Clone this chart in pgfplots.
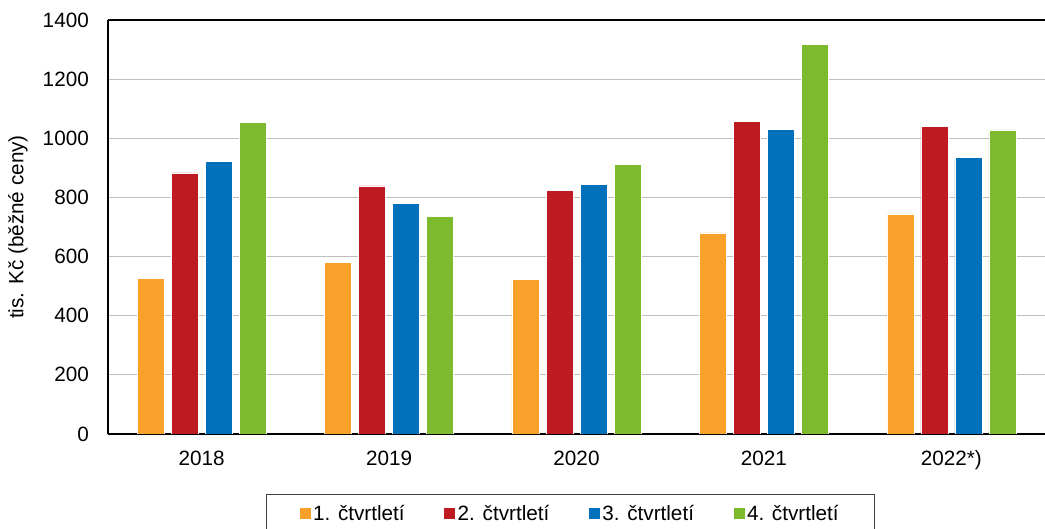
\documentclass[border=0pt]{standalone}
\usepackage{pgfplots}
\pgfplotsset{compat=1.18}
\usepackage{fontspec}
\setmainfont{Liberation Sans}
\definecolor{cq1}{HTML}{F9A12A}
\definecolor{cq2}{HTML}{BE1A22}
\definecolor{cq3}{HTML}{0070BA}
\definecolor{cq4}{HTML}{7DBA2E}
\pgfplotsset{sqlegend/.style={legend image code/.code={\fill[##1,draw=none] (0pt,-5pt) rectangle (11pt,6pt);}}}
\begin{document}
\begin{tikzpicture}
\path[use as bounding box] (-108pt,-95pt) rectangle (937pt,434pt);
\begin{axis}[
  at={(0pt,0pt)}, anchor=south west,
  scale only axis, width=937pt, height=414pt,
  xmin=-0.5, xmax=4.5, ymin=0, ymax=1400,
  ybar=7pt, bar width=27pt,
  axis x line=box, axis y line=left,
  x axis line style={-, line width=1.4pt},
  y axis line style={-, line width=1.4pt},
  major tick length=0pt,
  xtick={0,1,2,3,4},
  xticklabels={2018,2019,2020,2021,2022*)},
  ytick={0,200,400,600,800,1000,1200,1400},
  ymajorgrids,
  grid style={color=black!25, line width=1.2pt},
  /pgf/number format/assume math mode=true,
  /pgf/number format/1000 sep={},
  tick label style={font=\fontsize{20.7pt}{24pt}\selectfont},
  yticklabel style={anchor=east, inner sep=0pt, xshift=-19pt},
  xticklabel style={anchor=base, inner sep=0pt, yshift=-32pt},
  ylabel={tis. Kč (běžné ceny)},
  every axis y label/.style={at={(rel axis cs:0,0.5)}, xshift=-90pt, rotate=90, anchor=center, font=\fontsize{20.7pt}{24pt}\selectfont},
  legend columns=4,
  legend style={at={(axis description cs:0,0)}, anchor=north west, xshift=158pt, yshift=-60pt,
    draw=black!75, line width=1.2pt, inner xsep=33pt, inner ysep=9pt,
    font=\fontsize{20.7pt}{24pt}\selectfont,
    /tikz/every even column/.append style={column sep=37pt},
    nodes={inner xsep=2.5pt}},
]
\addplot[fill=cq1, draw=white, line width=0.6pt, sqlegend] coordinates {(0,527) (1,581) (2,524) (3,680) (4,744)};
\addplot[fill=cq2, draw=white, line width=0.6pt, sqlegend] coordinates {(0,883) (1,839) (2,825) (3,1057) (4,1040)};
\addplot[fill=cq3, draw=white, line width=0.6pt, sqlegend] coordinates {(0,923) (1,781) (2,845) (3,1030) (4,936)};
\addplot[fill=cq4, draw=white, line width=0.6pt, sqlegend] coordinates {(0,1053) (1,737) (2,913) (3,1318) (4,1028)};
\legend{1. čtvrtletí, 2. čtvrtletí, 3. čtvrtletí, 4. čtvrtletí}
\end{axis}
\end{tikzpicture}
\end{document}
